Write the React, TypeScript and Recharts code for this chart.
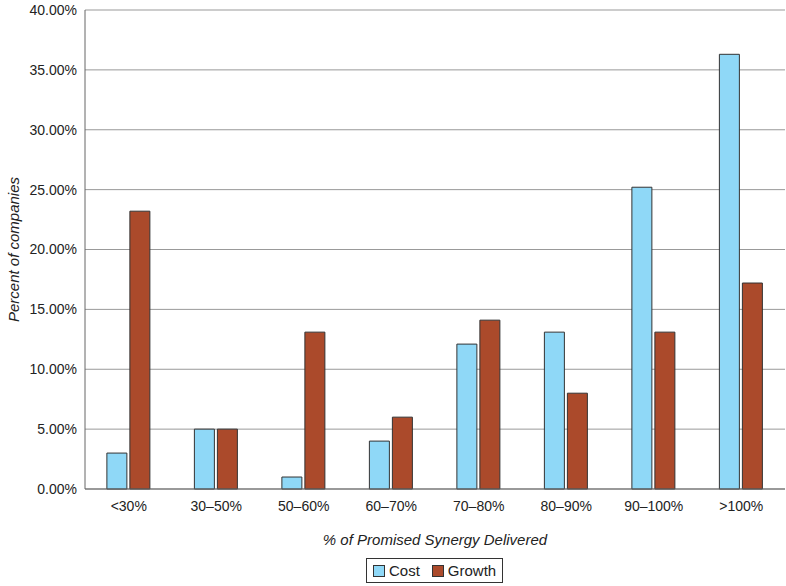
import React from 'react';
import { BarChart, Bar, XAxis, YAxis, CartesianGrid } from 'recharts';

const categories = ['<30%', '30–50%', '50–60%', '60–70%', '70–80%', '80–90%', '90–100%', '>100%'];
const costValues = [3, 5, 1, 4, 12.1, 13.1, 25.2, 36.3];
const growthValues = [23.2, 5, 13.1, 6, 14.1, 8, 13.1, 17.2];
const yTicks = [0, 5, 10, 15, 20, 25, 30, 35, 40];

const data = categories.map((name, i) => ({ name, cost: costValues[i], growth: growthValues[i] }));

const COST = '#8fd8f7';
const GROWTH = '#ab4a2b';
const font = '"Liberation Sans", Arial, sans-serif';

export default function App() {
  return (
    <div style={{ position: 'absolute', left: 0, top: 0, width: 786, height: 586, background: '#fff', fontFamily: font }}>
      <BarChart
        width={786}
        height={586}
        data={data}
        margin={{ top: 10, right: 1, left: 0, bottom: 37 }}
        barCategoryGap="25%"
        barGap={3}
      >
        <CartesianGrid vertical={false} stroke="#999" />
        <XAxis
          dataKey="name"
          height={60}
          tickLine={false}
          axisLine={{ stroke: '#666' }}
          tick={{ fill: '#222', fontSize: 14, fontFamily: font }}
          tickMargin={6}
          label={{ value: '% of Promised Synergy Delivered', position: 'insideBottom', offset: 4, fill: '#222', fontSize: 15, fontStyle: 'italic', fontFamily: font }}
        />
        <YAxis
          width={85}
          domain={[0, 40]}
          ticks={yTicks}
          tickFormatter={(v: number) => `${v.toFixed(2)}%`}
          tickLine={false}
          axisLine={{ stroke: '#666' }}
          tick={{ fill: '#222', fontSize: 14, fontFamily: font }}
          label={{ value: 'Percent of companies', angle: -90, position: 'insideLeft', offset: 14, fill: '#222', fontSize: 15, fontStyle: 'italic', fontFamily: font, style: { textAnchor: 'middle' } }}
        />
        <Bar dataKey="cost" fill={COST} stroke="#333" strokeWidth={1} isAnimationActive={false} />
        <Bar dataKey="growth" fill={GROWTH} stroke="#333" strokeWidth={1} isAnimationActive={false} />
      </BarChart>
      <div style={{ position: 'absolute', left: 366, top: 558, border: '1px solid #333', padding: '3px 6px', display: 'flex', alignItems: 'center', fontSize: 15, color: '#222', gap: 4 }}>
        <span style={{ width: 10, height: 10, background: COST, border: '1px solid #333', display: 'inline-block' }} />
        <span style={{ marginRight: 8 }}>Cost</span>
        <span style={{ width: 10, height: 10, background: GROWTH, border: '1px solid #333', display: 'inline-block' }} />
        <span>Growth</span>
      </div>
    </div>
  );
}
